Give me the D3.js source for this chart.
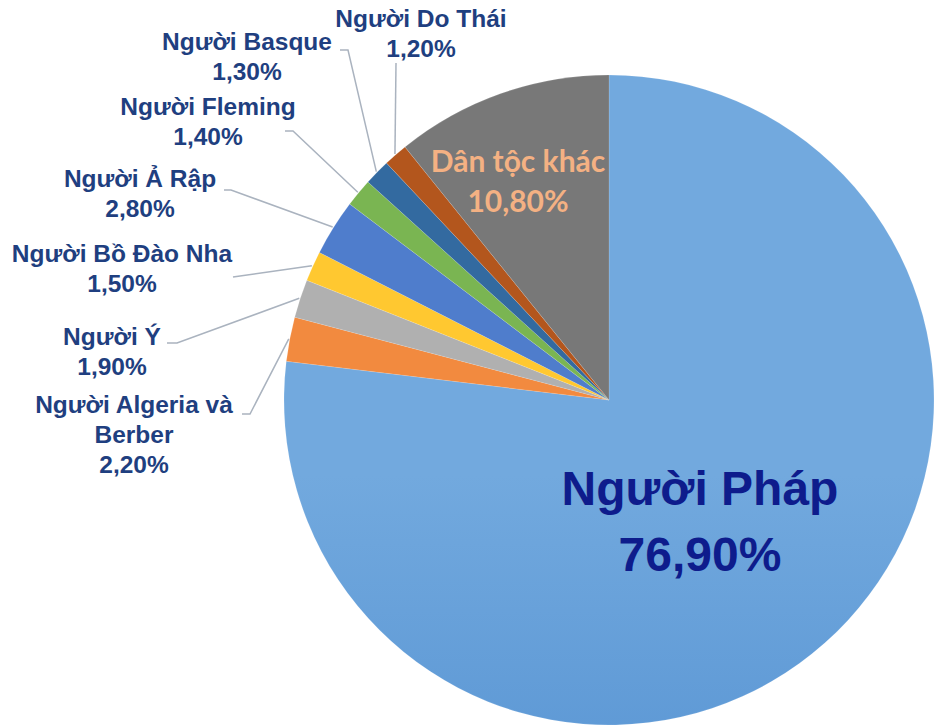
<!DOCTYPE html>
<html>
<head>
<meta charset="utf-8">
<script src="https://cdn.jsdelivr.net/npm/d3@7"></script>
<style>
  html, body { margin: 0; padding: 0; background: #fff; }
  svg { display: block; }
</style>
</head>
<body>
<svg id="chart" width="935" height="728"></svg>
<script>
// ── Data ────────────────────────────────────────────────────
const groups = [
  'Người Pháp', 'Người Algeria và Berber', 'Người Ý', 'Người Bồ Đào Nha',
  'Người Ả Rập', 'Người Fleming', 'Người Basque', 'Người Do Thái', 'Dân tộc khác'
];
const shares = [76.9, 2.2, 1.9, 1.5, 2.8, 1.4, 1.3, 1.2, 10.8];
const pctLabels = ['76,90%', '2,20%', '1,90%', '1,50%', '2,80%', '1,40%', '1,30%', '1,20%', '10,80%'];

// ── Layout / style ─────────────────────────────────────────
const W = 935, H = 728;
const CX = 609, CY = 400, R = 325;

// light (top) and dark (bottom) ends of each slice's gradient
const sliceColors = [
  ['#72a9de', '#4283ca'],
  ['#f28a3f', '#e8731f'],
  ['#b0b0b0', '#959595'],
  ['#ffc830', '#f5b800'],
  ['#4f7dcc', '#3b63b4'],
  ['#7ab552', '#63a03a'],
  ['#336aa0', '#255888'],
  ['#b3561d', '#a0470e'],
  ['#787878', '#4c4c4c']
];

// label blocks: centre x, first baseline, text lines; leader path start
const labelLayout = [
  null,
  { x: 134, y: 413, lines: ['Người Algeria và', 'Berber'], lead: [[242, 414], [250, 414]] },
  { x: 112, y: 345, lines: ['Người Ý'], lead: [[167, 343], [177, 343]] },
  { x: 122, y: 262, lines: ['Người Bồ Đào Nha'], lead: [[233, 277]] },
  { x: 140, y: 187, lines: ['Người Ả Rập'], lead: [[224, 190], [231, 190]] },
  { x: 208, y: 115, lines: ['Người Fleming'], lead: [[285, 131], [293, 131]] },
  { x: 247, y: 50,  lines: ['Người Basque'], lead: [[340, 50], [348, 50]] },
  { x: 421, y: 27,  lines: ['Người Do Thái'], lead: [[396, 63]] },
  null
];

const svg = d3.select('#chart');
const defs = svg.append('defs');

const pie = d3.pie().sort(null).value(d => d);
const arcs = pie(shares);

const arc = d3.arc().innerRadius(0).outerRadius(R);
const edgeArc = d3.arc().innerRadius(R + 1).outerRadius(R + 1);

// gradients (top to bottom across the whole pie)
sliceColors.forEach((c, i) => {
  const g = defs.append('linearGradient')
    .attr('id', 'grad' + i)
    .attr('gradientUnits', 'userSpaceOnUse')
    .attr('x1', CX).attr('y1', CY - R)
    .attr('x2', CX).attr('y2', CY + R);
  g.append('stop').attr('offset', '0%').attr('stop-color', c[0]);
  g.append('stop').attr('offset', '100%').attr('stop-color', c[1]);
});

const pieG = svg.append('g').attr('transform', `translate(${CX},${CY})`);

pieG.selectAll('path.slice')
  .data(arcs)
  .enter()
  .append('path')
  .attr('class', 'slice')
  .attr('d', arc)
  .attr('fill', (d, i) => `url(#grad${i})`)
  .attr('stroke', 'rgba(255,255,255,0.25)')
  .attr('stroke-width', 0.5);

// ── Leader lines and outer labels ──────────────────────────
const line = d3.line();
const labelColor = '#1f3f80';
const outerG = svg.append('g');

arcs.forEach((d, i) => {
  const L = labelLayout[i];
  if (!L) return;
  const e = edgeArc.centroid(d);
  const pts = L.lead.concat([[e[0] + CX, e[1] + CY]]);
  outerG.append('path')
    .attr('d', line(pts))
    .attr('fill', 'none')
    .attr('stroke', '#aab3bf')
    .attr('stroke-width', 1.5);

  const t = outerG.append('text')
    .attr('x', L.x)
    .attr('y', L.y)
    .attr('text-anchor', 'middle')
    .attr('font-family', '"Liberation Sans", Arial, sans-serif')
    .attr('font-weight', 'bold')
    .attr('font-size', 24.5)
    .attr('fill', labelColor);
  L.lines.concat([pctLabels[i]]).forEach((s, k) => {
    t.append('tspan').attr('x', L.x).attr('dy', k === 0 ? 0 : 30).text(s);
  });
});

// ── Inside labels ──────────────────────────────────────────
const big = svg.append('text')
  .attr('text-anchor', 'middle')
  .attr('font-family', '"Liberation Sans", Arial, sans-serif')
  .attr('font-weight', 'bold')
  .attr('font-size', 48)
  .attr('fill', '#0e1c8c');
big.append('tspan').attr('x', 700).attr('y', 505).text(groups[0]);
big.append('tspan').attr('x', 700).attr('y', 571).text(pctLabels[0]);

const other = svg.append('text')
  .attr('text-anchor', 'middle')
  .attr('font-family', 'Lato, "Open Sans", sans-serif')
  .attr('font-weight', 'bold')
  .attr('font-size', 30)
  .attr('fill', '#f4b183');
other.append('tspan').attr('x', 518).attr('y', 172).text(groups[8]);
other.append('tspan').attr('x', 518).attr('y', 212).text(pctLabels[8]);
</script>
</body>
</html>
